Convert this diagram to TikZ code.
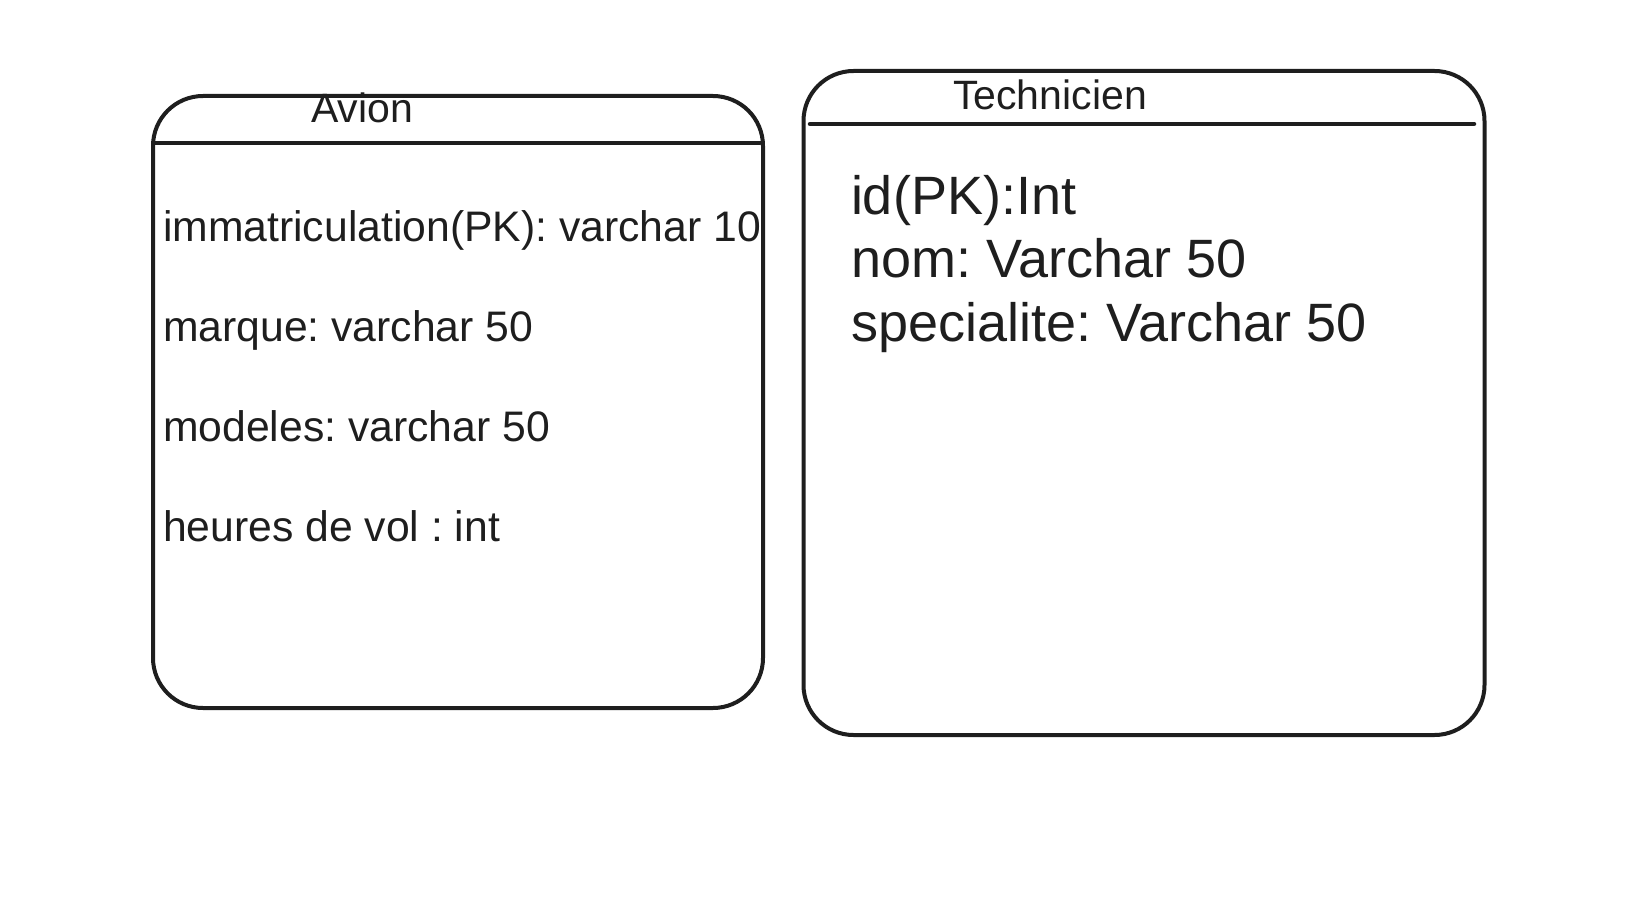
\documentclass[tikz,border=0pt]{standalone}
\usepackage{fontspec}
\setmainfont{Liberation Sans}
\definecolor{ink}{HTML}{1E1E1E}
\newcommand{\titlefont}{\fontsize{41}{48}\selectfont}
\newcommand{\smallattr}{\fontsize{42.7}{50}\selectfont}
\newcommand{\bigattr}{\fontsize{54}{63}\selectfont}
\frenchspacing
\begin{document}
\begin{tikzpicture}[
	x=1pt, y=-1pt,
	every node/.style={text=ink, inner sep=0pt, outer sep=0pt},
	entity/.style={draw=ink, line width=4pt, rounded corners=50pt},
	title/.style={anchor=base, font=\titlefont},
	attr/.style={anchor=base west},
	sep/.style={draw=ink, line width=4.5pt, line cap=round}
	]
	\useasboundingbox (0,0) rectangle (1628,904);
	% Tables
	\node[entity, minimum width=610pt, minimum height=612pt] (avion) at (458,402) {};
	\node[entity, minimum width=681pt, minimum height=664pt] (tech) at (1144,403) {};
	
	% Titles
	\node[title] (avionname) at (362,123) {Avion};
	\node[title] (techname) at (1050,110) {Technicien};
	
	% Header lines
	\coordinate (avionL) at (155,143);
	\coordinate (avionR) at (760,143);
	\coordinate (techL) at (810,124);
	\coordinate (techR) at (1474,124);
	\draw[sep] (avionL) -- (avionR);
	\draw[sep] (techL) -- (techR);
	
	% Attributes of Avion
	\node[attr, font=\smallattr] (immat) at (163,241) {immatriculation(PK): varchar 10};
	\node[attr, font=\smallattr] (marque) at (163,341) {marque: varchar 50};
	\node[attr, font=\smallattr] (modeles) at (163,441) {modeles: varchar 50};
	\node[attr, font=\smallattr] (heures) at (163,541) {heures de vol : int};
	
	% Attributes of Technicien
	\node[attr, font=\bigattr] (techid) at (851,215) {id(PK):Int};
	\node[attr, font=\bigattr] (technom) at (851,277) {nom: Varchar 50};
	\node[attr, font=\bigattr] (techspec) at (851,341) {specialite: Varchar 50};
\end{tikzpicture}
\end{document}
